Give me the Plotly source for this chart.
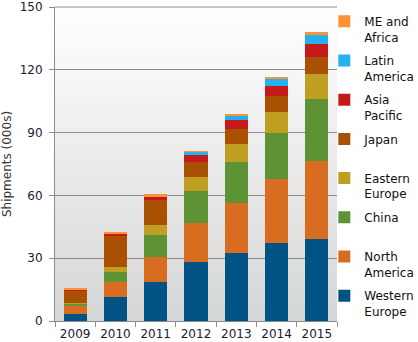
import base64
import plotly.graph_objects as go

years = ["2009", "2010", "2011", "2012", "2013", "2014", "2015"]
y_ticks = [0, 30, 60, 90, 120, 150]

western_europe = [3.3, 11.4, 18.5, 28.0, 32.3, 37.1, 39.0]
north_america = [4.3, 7.1, 11.9, 18.6, 24.2, 30.9, 37.5]
china = [0.8, 4.8, 10.9, 15.6, 19.5, 21.8, 29.4]
eastern_europe = [0.3, 2.4, 4.8, 6.7, 8.6, 10.0, 11.9]
japan = [6.0, 15.2, 11.9, 7.1, 7.1, 7.6, 8.1]
asia_pacific = [0.2, 0.9, 1.4, 3.3, 4.3, 4.7, 6.6]
latin_america = [0.1, 0.2, 0.3, 1.5, 1.7, 3.3, 4.3]
me_africa = [0.4, 0.5, 0.8, 0.4, 1.0, 1.0, 1.4]

series = [
    ("Western<br>Europe", western_europe, "#005384"),
    ("North<br>America", north_america, "#d86d22"),
    ("China<br>&nbsp;", china, "#5d9235"),
    ("Eastern<br>Europe", eastern_europe, "#bf9e22"),
    ("Japan<br>&nbsp;", japan, "#aa5003"),
    ("Asia<br>Pacific", asia_pacific, "#c8191a"),
    ("Latin<br>America", latin_america, "#22b2f2"),
    ("ME and<br>Africa", me_africa, "#fb9438"),
]

fig = go.Figure()
n = len(series)
for i, (name, vals, col) in enumerate(series):
    fig.add_trace(go.Bar(
        x=years, y=vals, name=name, marker=dict(color=col, line=dict(width=0)),
        legendgroup="g%d" % i, legendrank=n - i,
    ))

svg = ('<svg xmlns="http://www.w3.org/2000/svg" width="100" height="100" preserveAspectRatio="none">'
       '<defs><linearGradient id="g" x1="0" y1="0" x2="0" y2="1">'
       '<stop offset="0" stop-color="#ffffff"/><stop offset="1" stop-color="#d6d6d6"/>'
       '</linearGradient></defs><rect width="100" height="100" fill="url(#g)"/></svg>')
uri = "data:image/svg+xml;base64," + base64.b64encode(svg.encode()).decode()

grid_col = "#8c8c8c"

fig.update_layout(
    width=418, height=342,
    margin=dict(l=55, r=81, t=7, b=21, autoexpand=False),
    barmode="stack", bargap=0.425,
    paper_bgcolor="white", plot_bgcolor="rgba(0,0,0,0)",
    font=dict(family="DejaVu Sans", size=12, color="#222"),
    images=[dict(source=uri, xref="x domain", yref="y domain", x=0, y=1,
                 sizex=1, sizey=1, sizing="stretch", layer="below",
                 xanchor="left", yanchor="top")],
    # top gridline (value 150 sits at the top edge of the plot area)
    shapes=[dict(type="line", xref="paper", x0=0, x1=1, yref="paper",
                 y0=1, y1=1, layer="above",
                 line=dict(color=grid_col, width=1.2))],
    legend=dict(
        traceorder="grouped", tracegroupgap=5,
        x=0.955, xanchor="left", y=1.0, yanchor="top",
        font=dict(family="DejaVu Sans", size=12, color="#111"),
        valign="top", bgcolor="rgba(0,0,0,0)",
    ),
    showlegend=True,
)
fig.update_yaxes(
    range=[0, 150], tickvals=y_ticks,
    showgrid=True, gridcolor=grid_col, gridwidth=1,
    showline=True, linecolor=grid_col, linewidth=1,
    ticks="outside", ticklen=5, tickcolor=grid_col,
    tickfont=dict(size=12, color="#1a1a33"), ticklabeloverflow="allow",
    ticklabelstandoff=4,
    title=dict(text="Shipments (000s)", font=dict(size=12, color="#333"), standoff=6),
    zeroline=False,
)
fig.update_xaxes(
    showline=True, linecolor=grid_col, linewidth=1,
    ticks="outside", ticklen=5, tickcolor=grid_col, tickson="boundaries",
    tickfont=dict(size=12, color="#1a1a33"), tickangle=0,
    ticklabelstandoff=2, ticklabeloverflow="allow",
)

fig.write_html("out.html")
